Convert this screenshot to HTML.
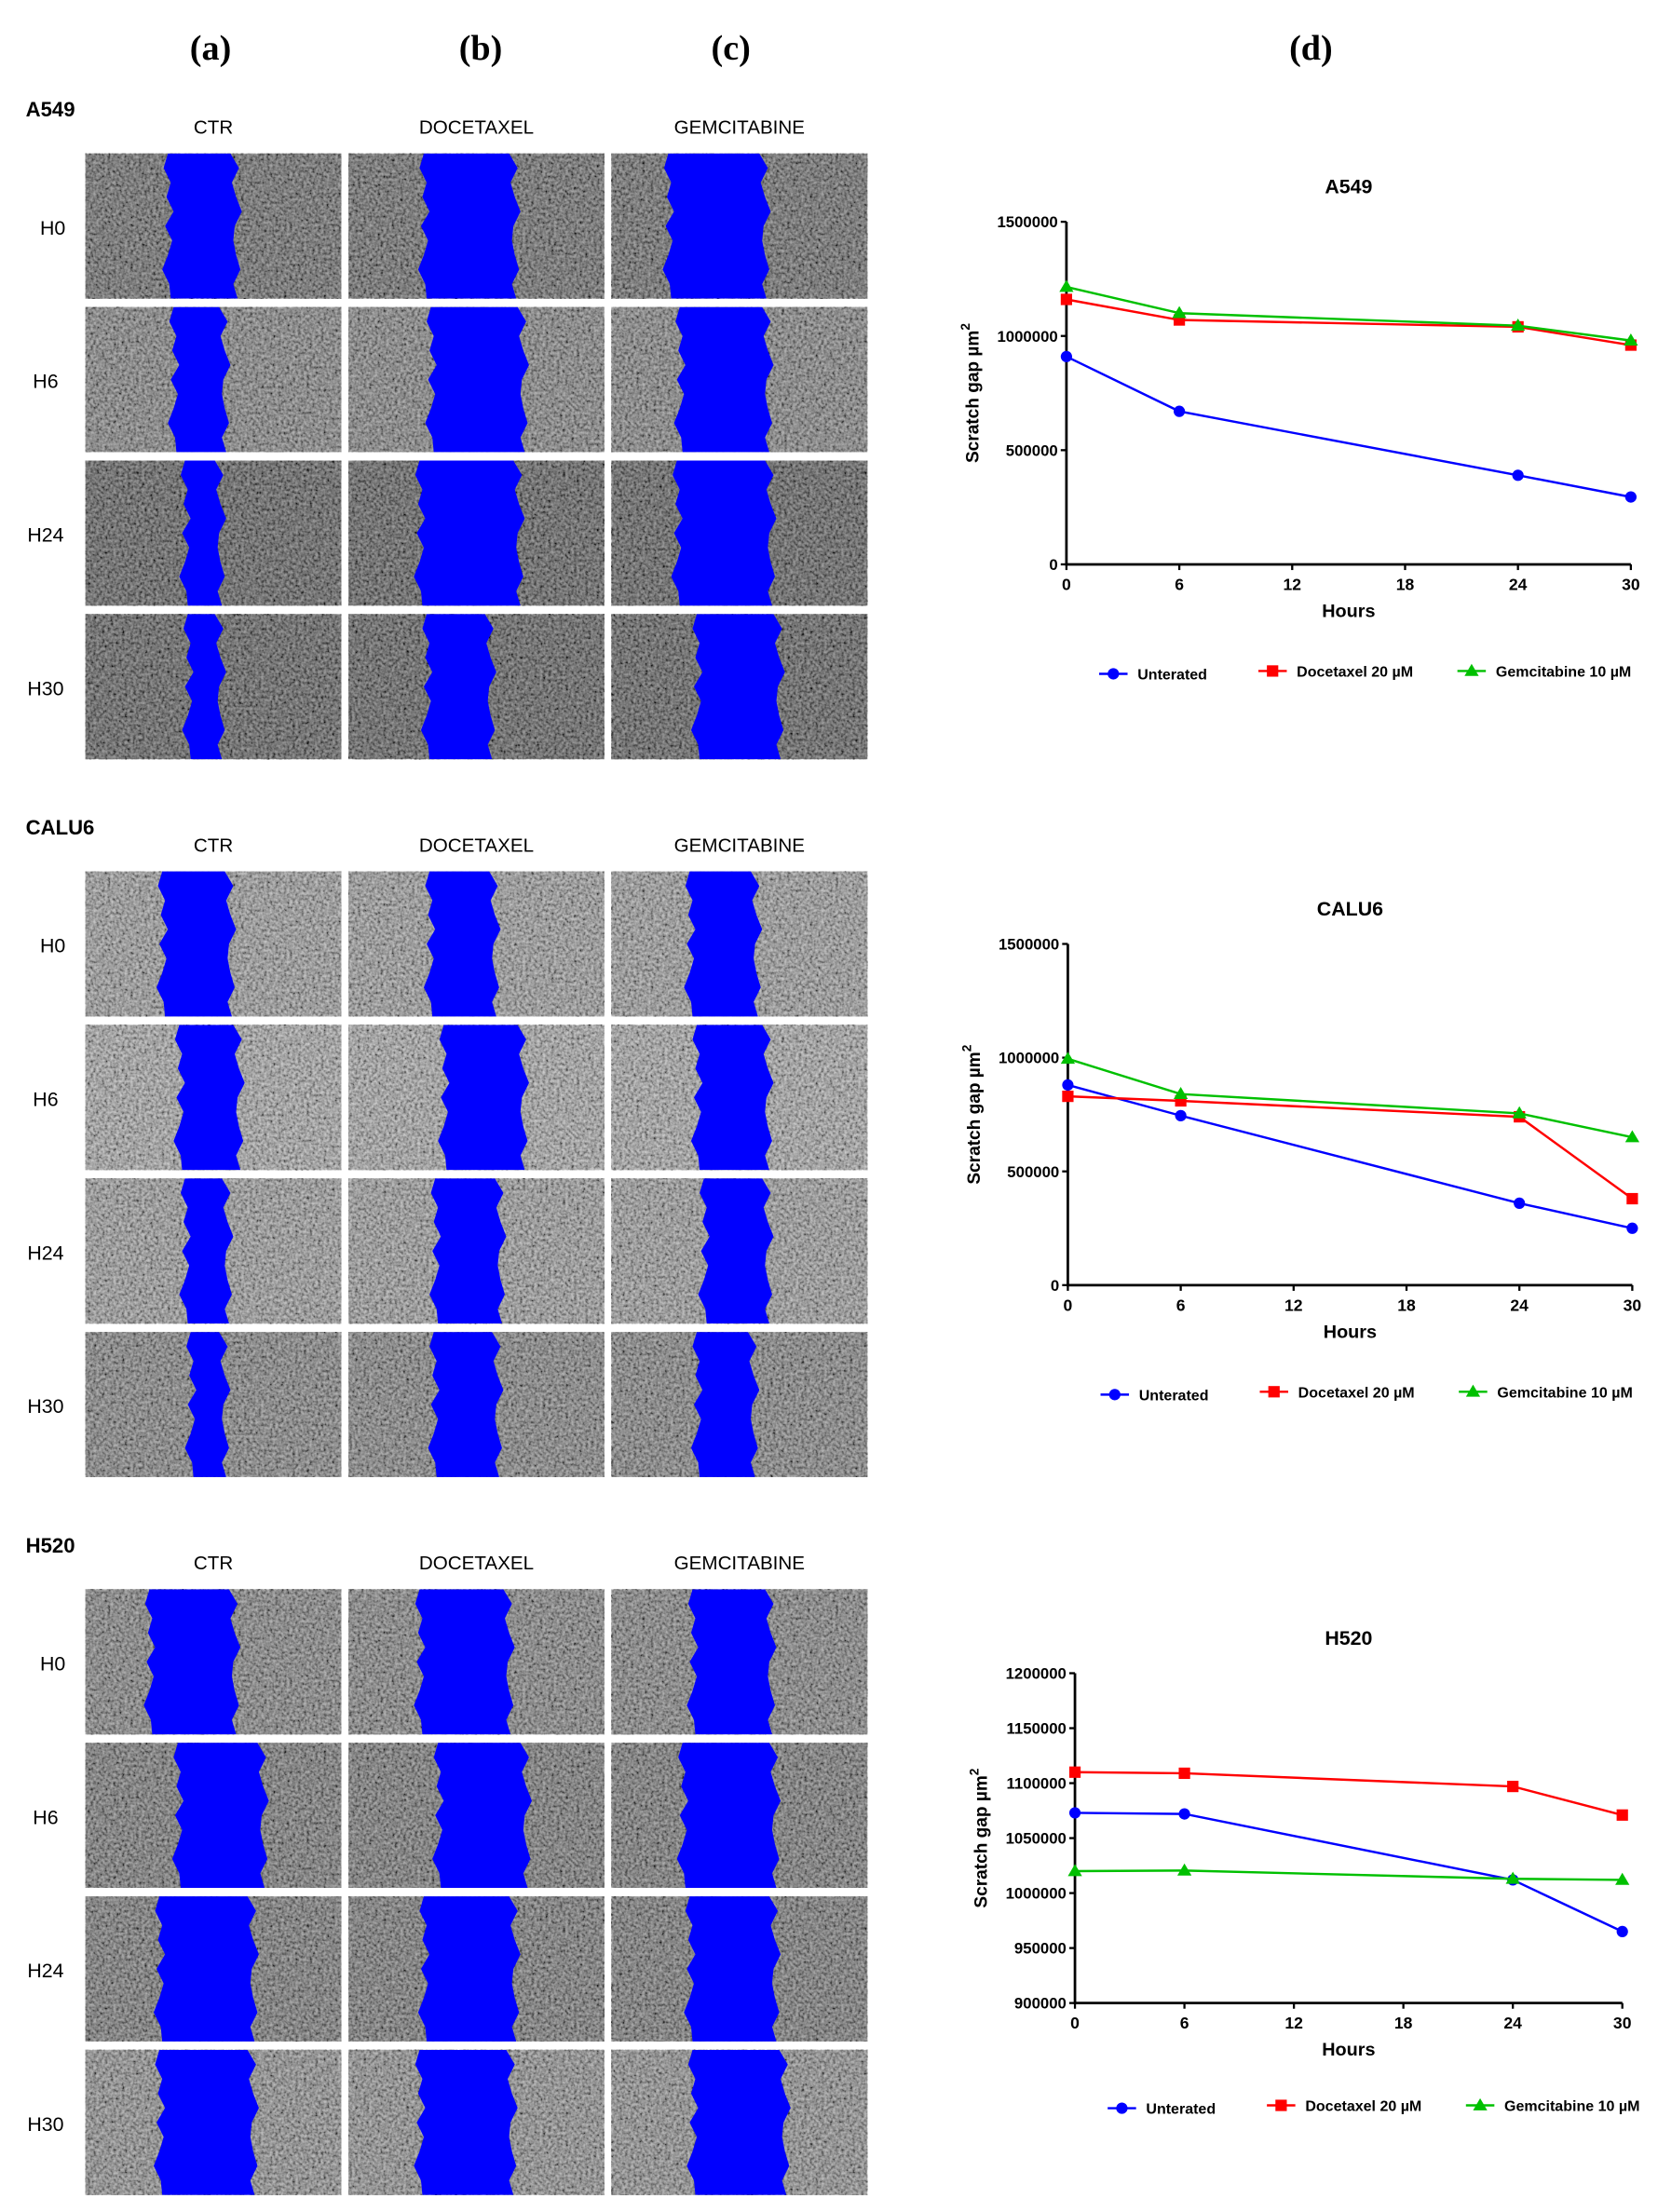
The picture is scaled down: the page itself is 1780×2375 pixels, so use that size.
<!DOCTYPE html>
<html><head><meta charset="utf-8"><style>
html,body{margin:0;padding:0;background:#fff}
svg{display:block}
text{font-family:"Liberation Sans",Arial,sans-serif}
.ser{font-family:"Liberation Serif",serif}
</style></head><body>
<svg id="root" width="1780" height="2375" viewBox="0 0 1166 1556" xmlns="http://www.w3.org/2000/svg">
<defs>
<filter id="tex" x="0" y="0" width="1" height="1">
<feTurbulence type="fractalNoise" baseFrequency="0.5" numOctaves="2" seed="3" result="n"/>
<feColorMatrix in="n" type="matrix" values="1.6 0 0 0 -0.3  1.6 0 0 0 -0.3  1.6 0 0 0 -0.3  0 0 0 0 1"/>
</filter>
</defs>
<g id="photos"></g>
<g id="charts"></g>
</svg>
<script>
const NS="http://www.w3.org/2000/svg";
const root=document.getElementById('root');
function mk(tag,attrs,parent,txt){const e=document.createElementNS(NS,tag);for(const k in attrs)e.setAttribute(k,attrs[k]);if(txt!==undefined)e.textContent=txt;(parent||root).appendChild(e);return e;}

const headers=[["(a)",148],["(b)",338],["(c)",514],["(d)",922]];
headers.forEach(h=>{const t=mk('text',{x:h[1],y:42,'text-anchor':'middle','font-size':25,'font-weight':'bold',class:'ser'},root,h[0]);

});

const cols=[60,245,430];
const colNames=["CTR","DOCETAXEL","GEMCITABINE"];
const rowNames=["H0","H6","H24","H30"];
const rowLabelX=[37,32,32,32];
const sections=[["A549",0],["CALU6",505],["H520",1010]];
const gaps=[
 [[[118,166],[122,158],[130,155],[132,155]],[[298,362],[303,368],[295,365],[300,345]],[[470,538],[478,540],[476,542],[490,548]]],
 [[[114,162],[126,168],[130,160],[134,158]],[[302,348],[312,368],[306,352],[305,350]],[[485,532],[490,540],[495,540],[490,530]]],
 [[[105,165],[125,185],[112,178],[112,178]],[[295,358],[308,370],[298,362],[295,360]],[[487,542],[480,545],[485,545],[487,552]]]
];
const wob=[0,-3,2,-1,4,-2,3,0,-4,1,2];
const pg=document.getElementById('photos');
const bgShade=[["#333","#555","#222","#222"],["#777","#888","#777","#555"],["#555","#444","#444","#666"]];
sections.forEach((s,si)=>{
 const off=s[1];
 const g=mk('g',{},pg);
 
 
 const lab=mk('text',{x:18,y:off+82,'font-size':14.5,'font-weight':'bold'},g,s[0]);
 
 
 colNames.forEach((c,ci)=>{const t=mk('text',{x:cols[ci]+90,y:off+94,'text-anchor':'middle','font-size':13.5},g,c);
  
  });
 rowNames.forEach((r,ri)=>{
  const y0=off+108+ri*108;
  const t=mk('text',{x:rowLabelX[ri],y:y0+57,'font-size':14,'text-anchor':'middle'},g,r);
  
  
  cols.forEach((cx,ci)=>{
   const rr=mk('rect',{x:cx,y:y0,width:180,height:102,fill:'#888',filter:'url(#tex)'},g);
   
   
   const ov=mk('rect',{x:cx,y:y0,width:180,height:102,fill:bgShade[si][ri],opacity:0.45},g);
   
   
   const gp=gaps[si][ci][ri];
   let L=[],R=[];
   for(let k=0;k<=10;k++){const yy=y0+k*10.2;L.push((gp[0]+wob[k])+','+yy);R.push((gp[1]-wob[(k+4)%11])+','+yy);}
   const poly=mk('polygon',{points:L.concat(R.reverse()).join(' '),fill:'#0000fe'},g);
   
   
  });
 });
});

const hours=[0,6,24,30];
const xTicks=[0,6,12,18,24,30];
const a549Untreated=[910000,670000,390000,295000];
const a549Docetaxel=[1160000,1070000,1040000,960000];
const a549Gemcitabine=[1215000,1100000,1045000,980000];
const calu6Untreated=[880000,745000,360000,250000];
const calu6Docetaxel=[830000,810000,740000,380000];
const calu6Gemcitabine=[995000,840000,755000,650000];
const h520Untreated=[1073000,1072000,1012000,965000];
const h520Docetaxel=[1110000,1109000,1097000,1071000];
const h520Gemcitabine=[1020000,1020500,1013000,1012000];
const yTicksBig=[0,500000,1000000,1500000];
const yTicksH520=[900000,950000,1000000,1050000,1100000,1150000,1200000];
const seriesNames=["Unterated","Docetaxel 20 \u00b5M","Gemcitabine 10 \u00b5M"];
const colors=["#0000ff","#ff0000","#00c000"];

const cg=document.getElementById('charts');
function marker(g,type,x,y,col){
 let m;
 if(type===0)m=mk('circle',{cx:x,cy:y,r:4,fill:col},g);
 else if(type===1)m=mk('rect',{x:x-4,y:y-4,width:8,height:8,fill:col},g);
 else m=mk('polygon',{points:`${x},${y-5} ${x+5},${y+3.5} ${x-5},${y+3.5}`,fill:col},g);
 return m;
}
function chart(o){
 const g=mk('g',{},cg);
 
 
 const X=h=>o.x0+(h-0)/(30-0)*(o.x1-o.x0);
 const Y=v=>o.yb-(v-o.ymin)/(o.ymax-o.ymin)*(o.yb-o.yt);
 const t=mk('text',{x:(o.x0+o.x1)/2,y:o.yt-20,'text-anchor':'middle','font-size':14,'font-weight':'bold'},g,o.title);
 
 
 const ax=mk('path',{d:`M${o.x0},${o.yt} V${o.yb} H${o.x1}`,stroke:'#000','stroke-width':1.8,fill:'none'},g);
 
 
 o.yTicks.forEach(v=>{
  const y=Y(v);
  const tk=mk('line',{x1:o.x0-4,x2:o.x0,y1:y,y2:y,stroke:'#000','stroke-width':1.5},g);
  
  
  const tl=mk('text',{x:o.x0-6,y:y+4,'text-anchor':'end','font-size':11,'font-weight':'bold'},g,String(v));
  
  
 });
 xTicks.forEach(h=>{
  const x=X(h);
  const tk=mk('line',{x1:x,x2:x,y1:o.yb,y2:o.yb+4,stroke:'#000','stroke-width':1.5},g);
  
  
  const tl=mk('text',{x:x,y:o.yb+18,'text-anchor':'middle','font-size':11.5,'font-weight':'bold'},g,String(h));
  
  
 });
 const xl=mk('text',{x:(o.x0+o.x1)/2,y:o.yb+37,'text-anchor':'middle','font-size':13,'font-weight':'bold'},g,'Hours');
 
 
 const yl=mk('text',{x:0,y:0,'text-anchor':'middle','font-size':12.5,'font-weight':'bold',transform:`translate(${o.x0-62},${(o.yt+o.yb)/2}) rotate(-90)`},g);
 
 
 mk('tspan',{},yl,'Scratch gap \u00b5m');
 mk('tspan',{dy:-6,'font-size':9},yl,'2');
 [o.s0,o.s1,o.s2].forEach((vals,si)=>{
  const pts=vals.map((v,i)=>X(hours[i])+','+Y(v)).join(' ');
  const pl=mk('polyline',{points:pts,fill:'none',stroke:colors[si],'stroke-width':1.6},g);
  
  
  vals.forEach((v,i)=>{const m=marker(g,si,X(hours[i]),Y(v),colors[si]);
   
   });
 });
 const lx=[o.lx,o.lx+112,o.lx+252], ly=[o.ly+2,o.ly,o.ly];
 seriesNames.forEach((n,si)=>{
  const lg=mk('g',{},g);
  
  
  mk('line',{x1:lx[si],x2:lx[si]+20,y1:ly[si],y2:ly[si],stroke:colors[si],'stroke-width':1.6},lg);
  marker(lg,si,lx[si]+10,ly[si],colors[si]);
  mk('text',{x:lx[si]+27,y:ly[si]+4,'font-size':10.5,'font-weight':'bold'},lg,n);
 });
}
chart({title:"A549",x0:750,x1:1147,yt:156,yb:397,ymin:0,ymax:1500000,yTicks:yTicksBig,s0:a549Untreated,s1:a549Docetaxel,s2:a549Gemcitabine,lx:773,ly:472});
chart({title:"CALU6",x0:751,x1:1148,yt:664,yb:904,ymin:0,ymax:1500000,yTicks:yTicksBig,s0:calu6Untreated,s1:calu6Docetaxel,s2:calu6Gemcitabine,lx:774,ly:979});
chart({title:"H520",x0:756,x1:1141,yt:1177,yb:1409,ymin:900000,ymax:1200000,yTicks:yTicksH520,s0:h520Untreated,s1:h520Docetaxel,s2:h520Gemcitabine,lx:779,ly:1481});
</script>
</body></html>
